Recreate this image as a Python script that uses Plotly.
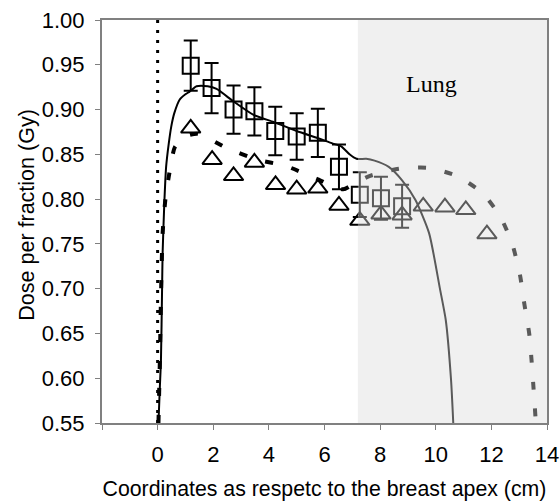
import plotly.graph_objects as go

# Measured points (squares with error bars)
sq_x = [1.19, 1.94, 2.73, 3.48, 4.23, 5.00, 5.76, 6.52, 7.27, 8.03, 8.79]
sq_y = [0.949, 0.924, 0.900, 0.898, 0.876, 0.870, 0.874, 0.836, 0.805, 0.801, 0.792]
sq_err = [0.028, 0.028, 0.027, 0.027, 0.027, 0.026, 0.027, 0.025, 0.025, 0.024, 0.024]

# Measured points (triangles)
tri_x = [1.19, 1.96, 2.73, 3.48, 4.24, 5.00, 5.76, 6.52, 7.27, 8.03, 8.79, 9.55, 10.33, 11.08, 11.84]
tri_y = [0.879, 0.844, 0.826, 0.841, 0.816, 0.811, 0.812, 0.793, 0.776, 0.783, 0.782, 0.792, 0.791, 0.788, 0.761]

# Calculated profile (solid)
calc1_x = [0.03, 0.08, 0.12, 0.16, 0.18, 0.24, 0.305, 0.40, 0.49, 0.60, 0.79, 1.00, 1.15, 1.40, 1.80, 2.12,
           2.73, 3.45, 4.18, 5.00, 5.76, 6.30, 6.60, 6.90, 7.15, 7.50, 7.80, 8.31, 8.79, 9.27, 9.76, 10.15,
           10.36, 10.55, 10.63]
calc1_y = [0.550, 0.590, 0.620, 0.700, 0.740, 0.795, 0.836, 0.862, 0.881, 0.896, 0.911, 0.917, 0.920, 0.926, 0.926, 0.923,
           0.909, 0.894, 0.886, 0.876, 0.868, 0.862, 0.859, 0.850, 0.845, 0.845, 0.843, 0.836, 0.821, 0.799, 0.762, 0.700,
           0.665, 0.598, 0.550]

# Calculated profile (dashed)
calc2_x = [0.03, 0.08, 0.12, 0.18, 0.28, 0.40, 0.62, 1.00, 1.45, 2.49, 3.58, 4.61, 5.70, 6.67, 7.10, 7.64,
           8.67, 9.70, 10.75, 11.67, 12.33, 12.76, 13.03, 13.19, 13.36, 13.45, 13.52, 13.60]
calc2_y = [0.550, 0.620, 0.690, 0.762, 0.800, 0.825, 0.858, 0.870, 0.873, 0.857, 0.844, 0.837, 0.823, 0.811, 0.818, 0.826,
           0.834, 0.835, 0.826, 0.807, 0.780, 0.749, 0.715, 0.682, 0.650, 0.618, 0.587, 0.550]

apex_x = [0, 0]
apex_y = [0.55, 1.00]

lung_x = [7.2, 14]
x_ticks = [-2, 0, 2, 4, 6, 8, 10, 12, 14]
x_ticktext = ["", "0", "2", "4", "6", "8", "10", "12", "14"]
y_ticks = [0.55, 0.60, 0.65, 0.70, 0.75, 0.80, 0.85, 0.90, 0.95, 1.00]

fig = go.Figure()

fig.add_trace(go.Scatter(x=apex_x, y=apex_y, mode="lines",
                         line=dict(color="black", width=3, dash="3px,7px"), showlegend=False))
fig.add_trace(go.Scatter(x=calc2_x, y=calc2_y, mode="lines",
                         line=dict(color="black", width=4, dash="8px,19px", shape="spline", smoothing=0.6),
                         showlegend=False))
fig.add_trace(go.Scatter(x=calc1_x, y=calc1_y, mode="lines",
                         line=dict(color="black", width=2, shape="spline", smoothing=0.6), showlegend=False))
fig.add_trace(go.Scatter(x=tri_x, y=tri_y, mode="markers",
                         marker=dict(symbol="triangle-up-open", size=17, color="black", line=dict(width=2)),
                         showlegend=False))
fig.add_trace(go.Scatter(x=sq_x, y=sq_y, mode="markers",
                         error_y=dict(type="data", array=sq_err, color="black", thickness=2, width=7),
                         marker=dict(symbol="square-open", size=16, color="black", line=dict(width=2)),
                         showlegend=False))

fig.add_shape(type="rect", xref="x", yref="y", x0=lung_x[0], x1=lung_x[1], y0=0.55, y1=1.0,
              fillcolor="rgba(218,218,218,0.41)", line=dict(width=0), layer="above")

fig.add_annotation(x=9.85, y=0.929, xref="x", yref="y", text="Lung", showarrow=False,
                   font=dict(family="Liberation Serif", size=24, color="black"))

# y-axis title placed as a rotated annotation for precise position
fig.add_annotation(x=-0.168, y=0.515, xref="paper", yref="paper", text="Dose per fraction (Gy)",
                   textangle=-90, showarrow=False, xanchor="center", yanchor="middle",
                   font=dict(family="Liberation Sans", size=21.5, color="black"))

fig.update_layout(
    width=560, height=504,
    margin=dict(l=102, r=13, t=20, b=81),
    plot_bgcolor="white", paper_bgcolor="white",
    font=dict(family="Liberation Sans", size=22, color="black"),
)
fig.update_xaxes(range=[-2, 14], tickvals=x_ticks, ticktext=x_ticktext, ticks="outside", ticklen=5,
                 tickcolor="#808080", showline=True, linecolor="#808080", linewidth=2, mirror=True,
                 showgrid=False, zeroline=False, ticklabelstandoff=6, automargin=False,
                 title=dict(text="Coordinates as respetc to the breast apex (cm)", font=dict(size=21.3)))
fig.update_yaxes(range=[0.55, 1.0], tickvals=y_ticks, tickformat=".2f", ticks="outside", ticklen=5,
                 tickcolor="#808080", showline=True, linecolor="#808080", linewidth=2, mirror=True,
                 showgrid=False, zeroline=False, ticklabelstandoff=6, automargin=False)

fig.write_html("out.html")
